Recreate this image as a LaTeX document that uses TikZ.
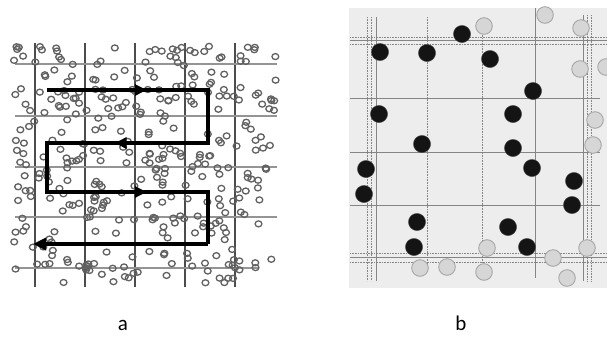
\documentclass[tikz,border=0pt]{standalone}
\usepackage{fontspec}
\setmainfont{Carlito}
\usetikzlibrary{decorations.markings,arrows.meta}
\definecolor{bgb}{HTML}{EDEDED}
\definecolor{ghostc}{HTML}{D6D6D6}
\tikzset{
  gridv/.style={draw=black!70, line width=1.3pt},
  gridh/.style={draw=black!42, line width=1.8pt},
  smallc/.style={draw=black!62, line width=1.3pt},
  scan/.style={draw=black, line width=3.6pt},
  tipmark/.style={postaction={decorate},decoration={markings,mark=at position #1 with {\arrow{Triangle[length=12pt,width=11pt]}}}},
  bline/.style={draw=black!48, line width=0.8pt},
  bdot/.style={draw=black!48, line width=0.8pt, dash pattern=on 1pt off 0.6pt},
  blk/.style={fill=black!92, draw=black!70, line width=0.4pt},
  ghost/.style={fill=ghostc, draw=black!35, line width=0.9pt},
  lab/.style={font=\fontsize{21}{23}\selectfont}
}
\begin{document}
\begin{tikzpicture}[x=1pt,y=-1pt]
\useasboundingbox (0,0) rectangle (607,338);
% ---------- panel a ----------
\foreach \x in {35,85,135,185,235} \draw[gridv] (\x,43) -- (\x,287);
\foreach \y in {64,116,167,217} \draw[gridh] (15,\y) -- (277,\y);
\draw[gridh] (15,268) -- (258,268);
\pgfmathsetseed{11}
\foreach \i in {1,...,330}{
  \pgfmathsetmacro\cx{14+264*rnd}
  \pgfmathsetmacro\cy{46+224*rnd}
  \draw[smallc] (\cx,\cy) ellipse (3.4 and 3.0);
}
\foreach \i in {1,...,25}{
  \pgfmathsetmacro\cx{35+200*rnd}
  \pgfmathsetmacro\cy{262+22*rnd}
  \draw[smallc] (\cx,\cy) ellipse (3.4 and 3.0);
}
\coordinate (p0) at (47,90);
\coordinate (p1) at (208,90);
\coordinate (p2) at (208,143);
\coordinate (p3) at (47,143);
\coordinate (p4) at (47,192);
\coordinate (p5) at (208,192);
\coordinate (p6) at (208,244);
\coordinate (p7) at (33,244);
\draw[scan, line join=miter] (p0) -- (p1) -- (p2) -- (p3) -- (p4) -- (p5) -- (p6);
\draw[scan, tipmark=0.62] (p0) -- (p1);
\draw[scan, tipmark=0.58] (p2) -- (p3);
\draw[scan, tipmark=0.62] (p4) -- (p5);
\draw[scan, -{Triangle[length=13pt,width=12pt]}] (p6) -- (p7);
% ---------- panel b ----------
\fill[bgb] (349,8) rectangle (607,288);
\foreach \x in {367.5,371.5} \draw[bdot] (\x,17) -- (\x,281);
\draw[bline] (376.5,17) -- (376.5,281);
\foreach \x in {587,591.5} \draw[bdot] (\x,15) -- (\x,281);
\draw[bline] (583,15) -- (583,281);
\draw[bdot] (427.5,17) -- (427.5,268);
\draw[bdot] (482,30) -- (482,272);
\draw[bline] (535,8) -- (535,278);
\foreach \y in {37,44} \draw[bdot] (350,\y) -- (607,\y);
\draw[bline] (350,40.5) -- (607,40.5);
\foreach \y in {253,262} \draw[bdot] (350,\y) -- (607,\y);
\draw[bline] (350,257.5) -- (607,257.5);
\foreach \y in {98,152,205} \draw[bline] (350,\y) -- (600,\y);
% ghost circles
\foreach \p in {(484,26),(545,15),(581,28),(580,69),(606,67),(595,120),(593,145),
  (487,248),(553,258),(587,248),(420,268),(447,267),(484,272),(567,278)}
  \draw[ghost] \p circle (8.3);
% black dots
\foreach \p in {(380,52),(427,53),(462,34),(490,59),(533,91),(379,114),(513,114),
  (422,144),(513,148),(532,168),(366,169),(364,194),(574,181),(572,205),
  (417,222),(508,227),(414,247),(527,247)}
  \draw[blk] \p circle (8.6);
% ---------- labels ----------
\node[lab] (la) at (123,325) {a};
\node[lab] (lb) at (461,323) {b};
\end{tikzpicture}
\end{document}
